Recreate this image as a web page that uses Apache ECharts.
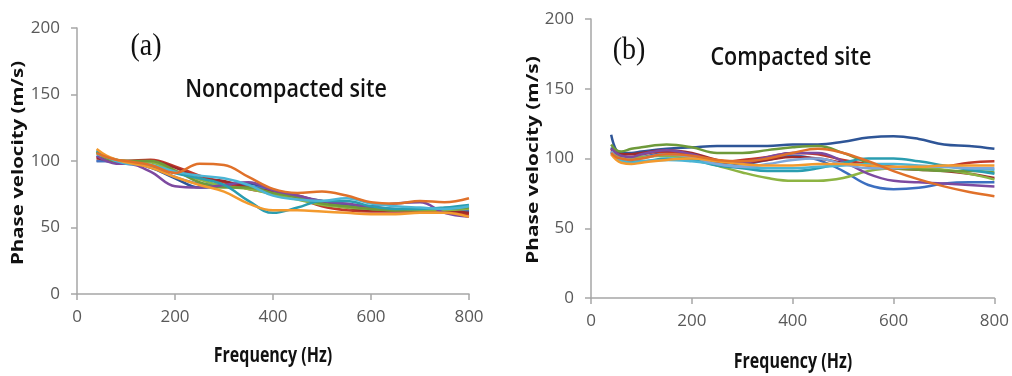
<!DOCTYPE html>
<html>
<head>
<meta charset="utf-8">
<script src="https://cdn.jsdelivr.net/npm/echarts@6/dist/echarts.min.js"></script>
<style>
html,body{margin:0;padding:0;background:#fff;}
#chart{width:1012px;height:376px;}
</style>
</head>
<body>
<div id="chart"></div>
<script>
// ---- Data ----
var xTicks = [0, 200, 400, 600, 800];
var yTicks = [0, 50, 100, 150, 200];

// (a) Noncompacted site
var freqA = [40, 60, 80, 100, 150, 200, 250, 300, 350, 400, 450, 500, 550, 600, 650, 700, 750, 800];
var a_blue     = [100, 100, 99, 99, 96, 88, 83, 82, 81, 78, 72, 68, 66, 64, 63, 62, 62, 63];
var a_red      = [103, 101, 100, 100, 101, 96, 89, 84, 79, 76, 72, 66, 63, 62, 62, 62, 61, 60];
var a_green    = [106, 102, 101, 100, 99, 92, 86, 81, 79, 75, 71, 67, 65, 64, 63, 63, 63, 64];
var a_purple   = [104, 100, 98, 98, 92, 81, 80, 82, 84, 78, 74, 70, 68, 66, 68, 69, 61, 58];
var a_teal     = [108, 103, 101, 99, 97, 91, 87, 82, 70, 61, 65, 70, 70, 66, 64, 64, 65, 67];
var a_orange   = [109, 104, 101, 99, 95, 88, 82, 77, 68, 63, 63, 62, 61, 60, 60, 61, 61, 58];
var a_darkblue = [100, 100, 99, 99, 95, 87, 80, 81, 83, 77, 73, 70, 67, 65, 64, 63, 63, 62];
var a_darkor   = [106, 103, 101, 100, 97, 91, 98, 97, 88, 79, 76, 77, 74, 69, 68, 70, 69, 72];
var a_cyan     = [105, 103, 100, 98, 97, 92, 89, 87, 82, 74, 71, 70, 72, 68, 66, 65, 64, 66];
var a_olive    = [107, 102, 100, 100, 100, 93, 84, 80, 80, 76, 73, 68, 66, 64, 63, 64, 64, 65];
var a_darkred  = [102, 101, 100, 100, 100, 95, 87, 85, 80, 77, 74, 69, 65, 63, 63, 64, 63, 61];

// (b) Compacted site
var freqB = [40, 50, 60, 80, 100, 150, 200, 250, 300, 350, 400, 450, 500, 550, 600, 650, 700, 750, 800];
var b_darkblue = [117, 106, 104, 104, 105, 107, 108, 109, 109, 109, 110, 110, 112, 115, 116, 114, 110, 109, 107];
var b_blue     = [108, 103, 101, 100, 101, 104, 103, 98, 96, 99, 102, 99, 91, 81, 78, 79, 82, 83, 83];
var b_green    = [104, 102, 101, 100, 101, 102, 100, 95, 90, 86, 84, 84, 86, 91, 93, 93, 92, 89, 85];
var b_olive    = [110, 106, 105, 107, 108, 110, 108, 104, 104, 106, 108, 109, 104, 97, 93, 92, 91, 91, 90];
var b_red      = [106, 103, 102, 101, 103, 105, 102, 97, 99, 101, 104, 103, 99, 96, 94, 93, 94, 97, 98];
var b_darkred  = [107, 104, 103, 103, 104, 106, 104, 99, 97, 99, 101, 100, 97, 95, 93, 92, 91, 89, 86];
var b_purple   = [107, 104, 102, 101, 103, 106, 103, 98, 97, 101, 104, 104, 98, 89, 84, 83, 82, 81, 80];
var b_teal     = [105, 101, 99, 98, 98, 100, 99, 95, 93, 91, 91, 93, 97, 100, 100, 98, 95, 92, 89];
var b_cyan     = [104, 100, 98, 97, 98, 99, 98, 96, 94, 93, 93, 94, 95, 96, 96, 95, 94, 93, 92];
var b_orange   = [103, 99, 97, 96, 97, 99, 100, 98, 96, 95, 95, 96, 96, 95, 94, 94, 95, 95, 95];
var b_darkor   = [104, 101, 100, 99, 100, 103, 102, 99, 98, 100, 104, 107, 104, 98, 91, 85, 80, 76, 73];
var b_light    = [105, 101, 100, 99, 100, 103, 101, 96, 94, 96, 99, 100, 96, 93, 93, 94, 94, 93, 93];

var seriesA = [
  ['#2E5597', a_darkblue], ['#4472C4', a_blue], ['#C0392B', a_red], ['#9E2A2B', a_darkred],
  ['#8DB443', a_green], ['#6E9A3A', a_olive], ['#7D4AA0', a_purple], ['#2A9DB0', a_teal],
  ['#4BB5D5', a_cyan], ['#F39A2E', a_orange], ['#E0712A', a_darkor]
];
var seriesB = [
  ['#2E5597', b_darkblue], ['#3C6FC0', b_blue], ['#C0392B', b_red], ['#9E2A2B', b_darkred],
  ['#8DB443', b_green], ['#6E9A3A', b_olive], ['#7D4AA0', b_purple], ['#2A9DB0', b_teal],
  ['#4BB5D5', b_cyan], ['#7FA7DA', b_light], ['#F39A2E', b_orange], ['#E0712A', b_darkor]
];

function pairs(xs, ys) { return xs.map(function (x, i) { return [x, ys[i]]; }); }

var chart = echarts.init(document.getElementById('chart'), null, {renderer: 'canvas'});

var axisColor = '#A6A6A6';
var labelStyle = {fontFamily: '"Liberation Sans Narrow", "Open Sans"', fontSize: 17, color: '#595959'};

function xAxis(gi) {
  return {
    type: 'value', gridIndex: gi, min: xTicks[0], max: xTicks[xTicks.length - 1], interval: 200,
    axisLine: {show: true, lineStyle: {color: axisColor, width: 1.5}},
    axisTick: {show: true, length: 6, lineStyle: {color: axisColor, width: 1.5}},
    axisLabel: Object.assign({margin: 15}, labelStyle),
    splitLine: {show: false}
  };
}
function yAxis(gi) {
  return {
    type: 'value', gridIndex: gi, min: yTicks[0], max: yTicks[yTicks.length - 1], interval: 50,
    axisLine: {show: true, lineStyle: {color: axisColor, width: 1.5}},
    axisTick: {show: true, length: 6, lineStyle: {color: axisColor, width: 1.5}},
    axisLabel: Object.assign({margin: 17}, labelStyle),
    splitLine: {show: false}
  };
}

var series = [];
seriesA.forEach(function (s) {
  series.push({type: 'line', xAxisIndex: 0, yAxisIndex: 0, smooth: 0.4, showSymbol: false,
    data: pairs(freqA, s[1]), lineStyle: {color: s[0], width: 2.5}, itemStyle: {color: s[0]}});
});
seriesB.forEach(function (s) {
  series.push({type: 'line', xAxisIndex: 1, yAxisIndex: 1, smooth: 0.4, showSymbol: false,
    data: pairs(freqB, s[1]), lineStyle: {color: s[0], width: 2.5}, itemStyle: {color: s[0]}});
});

function txt(x, y, text, font, opts) {
  opts = opts || {};
  return {
    type: 'text', x: x, y: y, rotation: opts.rotation || 0,
    scaleX: opts.scaleX || 1, scaleY: opts.scaleY || 1,
    style: {text: text, font: font, fill: opts.color || '#111',
      textAlign: 'center', textVerticalAlign: 'middle', align: 'center', verticalAlign: 'middle'}
  };
}

chart.setOption({
  animation: false,
  backgroundColor: '#ffffff',
  grid: [
    {left: 77, top: 28, width: 392, height: 266},
    {left: 591, top: 19, width: 406, height: 279}
  ],
  xAxis: [xAxis(0), xAxis(1)],
  yAxis: [yAxis(0), yAxis(1)],
  series: series,
  graphic: [
    txt(18, 163, 'Phase velocity (m/s)', 'bold 16px "Open Sans"', {rotation: Math.PI / 2, scaleX: 1.28}),
    txt(273, 356, 'Frequency (Hz)', 'bold 16px "Open Sans"', {scaleY: 1.3}),
    txt(286, 90, 'Noncompacted site', '600 21.5px "Open Sans"', {scaleY: 1.2}),
    txt(146, 47, '(a)', '28px "Liberation Serif"', {scaleY: 1.1}),
    txt(533, 160, 'Phase velocity (m/s)', 'bold 16px "Open Sans"', {rotation: Math.PI / 2, scaleX: 1.3}),
    txt(793, 362, 'Frequency (Hz)', 'bold 16px "Open Sans"', {scaleY: 1.3}),
    txt(791, 58, 'Compacted site', '600 21.5px "Open Sans"', {scaleY: 1.2}),
    txt(629, 51, '(b)', '28px "Liberation Serif"', {scaleY: 1.1})
  ]
});
</script>
</body>
</html>
